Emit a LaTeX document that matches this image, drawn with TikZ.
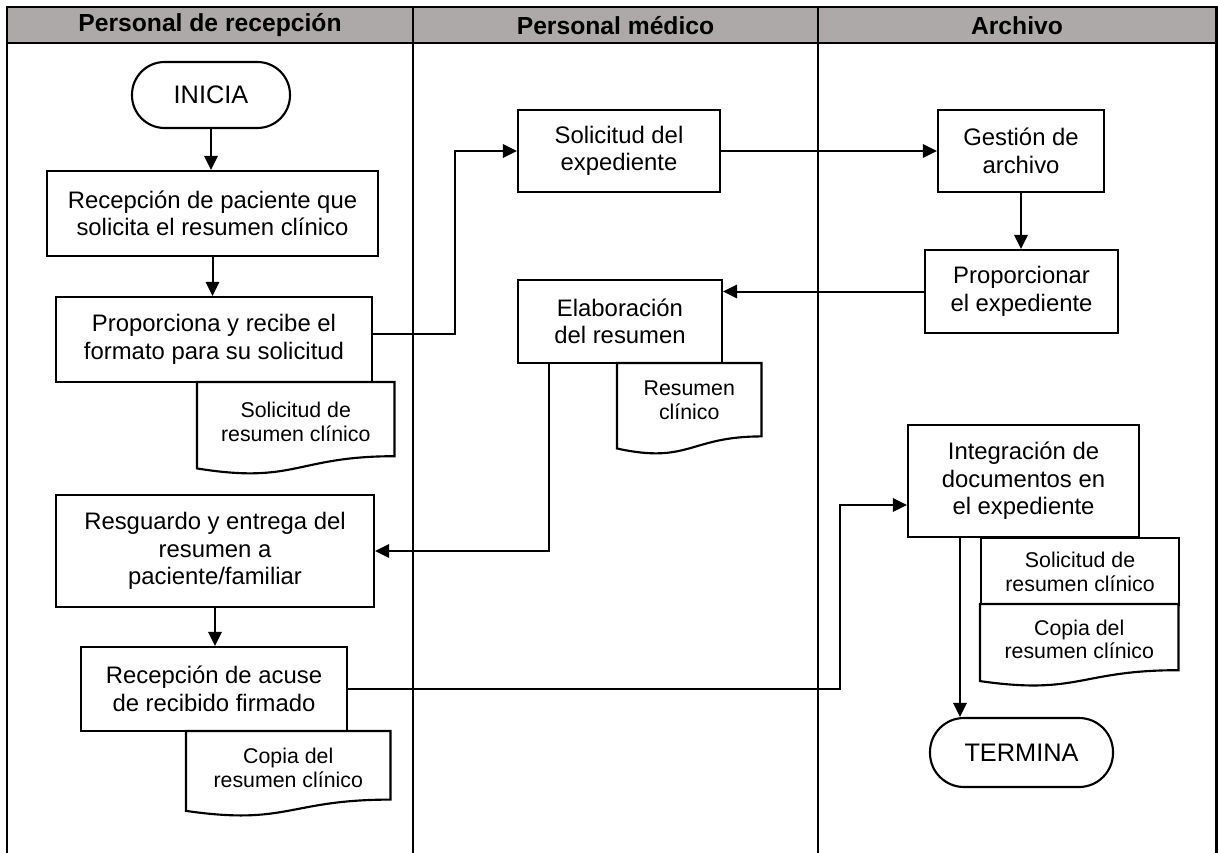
\documentclass[tikz,border=0pt]{standalone}
\usepackage{fontspec}
\setmainfont{Liberation Sans}
\usetikzlibrary{arrows.meta,calc}

\definecolor{headgray}{RGB}{173,169,168}

\newcommand\txtbody{\fontsize{17.9}{20.6}\selectfont}
\newcommand\txtterm{\fontsize{19}{21}\selectfont}
\newcommand\txtdoc{\fontsize{16}{17.8}\selectfont}
\newcommand\txthead{\fontsize{18.5}{20}\selectfont\bfseries}

% document symbol with a wavy lower edge, drawn over an empty node
\newcommand\docshape[1]{%
  \draw[boxline, fill=white] (#1.north west) -- (#1.north east)
    -- ($(#1.north east)!0.802!(#1.south east)$)
    .. controls ($(#1.north)!0.802!(#1.south)$) and ($(#1.north)!1.107!(#1.south)$)
    .. ($(#1.north west)!0.934!(#1.south west)$) -- cycle;}

\tikzset{
  frameline/.style={line width=1.9pt},
  boxline/.style={line width=1.6pt},
  proc/.style 2 args={draw, boxline, rectangle, align=center, inner sep=0pt,
    minimum width=#1*0.75pt, minimum height=#2*0.75pt, font=\txtbody},
  termbox/.style 2 args={proc={#1}{#2}, font=\txtterm},
  docarea/.style 2 args={rectangle, inner sep=0pt,
    minimum width=#1*0.75pt, minimum height=#2*0.75pt},
  docrect/.style 2 args={draw, boxline, rectangle, align=center, inner sep=0pt,
    minimum width=#1*0.75pt, minimum height=#2*0.75pt, font=\txtdoc},
  doctext/.style={align=center, inner sep=0pt, font=\txtdoc},
  flow/.style={line width=1.5pt, -{Triangle[length=10.5pt,width=10pt]}},
  lanehead/.style={font=\txthead, inner sep=0pt},
}

\begin{document}
\begin{tikzpicture}[x=0.75pt,y=-0.75pt]
\useasboundingbox (0,0) rectangle (1218,853);

% swimlane frame and header band
\fill[headgray] (7,7) rectangle (1216.5,43);
\draw[frameline] (7,853) -- (7,7) -- (1216.5,7) -- (1216.5,853);
\draw[frameline] (7,43) -- (1216.5,43);
\draw[frameline] (413,7) -- (413,853);
\draw[frameline] (818,7) -- (818,853);

\node[lanehead] (lane1) at (210,25.5) {Personal de recepción};
\node[lanehead] (lane2) at (615.5,25.5) {Personal médico};
\node[lanehead] (lane3) at (1017,25.5) {Archivo};

% reception staff
\node[termbox={158}{66}, rounded corners=24.5pt] (inicia) at (211,95) {INICIA};
\node[proc={331}{85}] (rec1) at (212.5,213.5) {Recepción de paciente que\\solicita el resumen clínico};
\node[proc={316}{85}] (prop) at (214,339.5) {Proporciona y recibe el\\formato para su solicitud};
\node[docarea={197}{92}, anchor=north west] (doc1) at (197,382) {};
\docshape{doc1}
\node[doctext] (doc1t) at ($(doc1.north)!0.43!(doc1.south)$) {Solicitud de\\resumen clínico};

\node[proc={318}{112}] (resg) at (215,551) {Resguardo y entrega del\\resumen a\\paciente/familiar};
\node[proc={266}{84}] (acuse) at (214,689) {Recepción de acuse\\de recibido firmado};
\node[docarea={204}{85}, anchor=north west] (doc3) at (186,731) {};
\docshape{doc3}
\node[doctext] (doc3t) at ($(doc3.north)!0.435!(doc3.south)$) {Copia del\\resumen clínico};

% medical staff
\node[proc={202}{82}] (solexp) at (619,151) {Solicitud del\\expediente};
\node[proc={204}{83}] (elab) at (620,321.5) {Elaboración\\del resumen};
\node[docarea={144}{91}, anchor=north west] (doc2) at (617,363) {};
\docshape{doc2}
\node[doctext] (doc2t) at ($(doc2.north)!0.41!(doc2.south)$) {Resumen\\clínico};

% archive
\node[proc={166}{82}] (gestion) at (1021,151) {Gestión de\\archivo};
\node[proc={193}{83}] (proporc) at (1021.5,291.5) {Proporcionar\\el expediente};
\node[proc={231}{112}] (integ) at (1023.5,481) {Integración de\\documentos en\\el expediente};
\node[docrect={198}{67}, anchor=north west] (doc4) at (980,537) {Solicitud de\\resumen clínico};
\node[docarea={198}{82}, anchor=north west] (doc5) at (980,604) {};
\docshape{doc5}
\node[doctext] (doc5t) at ($(doc5.north)!0.43!(doc5.south)$) {Copia del\\resumen clínico};
\node[termbox={183}{69}, rounded corners=25.5pt] (termina) at (1021.5,752.5) {TERMINA};

% bend points of the connectors
\coordinate (b1) at (455,333);
\coordinate (b2) at (549,363);
\coordinate (b3) at (840,505);
\coordinate (b4) at (960,537);

% flow
\draw[flow] (inicia.south) -- (inicia.south |- rec1.north);
\draw[flow] (rec1.south) -- (rec1.south |- prop.north);
\draw[flow] ([yshift=4.5pt]prop.east) -- ([yshift=4.5pt]prop.east -| b1) |- (solexp.west);
\draw[flow] (solexp.east) -- (gestion.west);
\draw[flow] (gestion.south) -- (gestion.south |- proporc.north);
\draw[flow] (proporc.west) -- (proporc.west -| elab.east);
\draw[flow] (b2) |- (resg.east);
\draw[flow] (resg.south) -- (resg.south |- acuse.north);
\draw[flow] (acuse.east) -| (b3) -- (b3 -| integ.west);
\draw[flow] (b4) -- (b4 |- termina.north);
\end{tikzpicture}
\end{document}
